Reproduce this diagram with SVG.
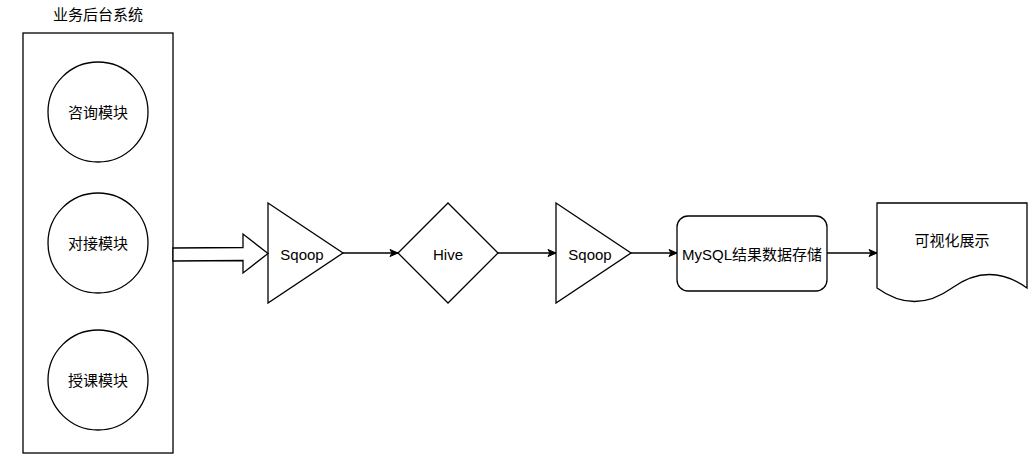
<svg xmlns="http://www.w3.org/2000/svg" width="1033" height="460" viewBox="0 0 1033 460">
<style>
.s{fill:#fff;stroke:#000;stroke-width:1.3}
.t{font-family:"Liberation Sans","Noto Sans CJK SC",sans-serif;font-size:15px;fill:#000;text-anchor:middle;dominant-baseline:central}
.c{fill:none;stroke:#000;stroke-width:1.3}
</style>
<defs>
<marker id="a" markerWidth="10" markerHeight="10" refX="9" refY="5" orient="auto" markerUnits="userSpaceOnUse">
<path d="M1,1.5 L9,5 L1,8.5 L3,5 Z" fill="#000" stroke="#000" stroke-width="1"/>
</marker>
</defs>
<rect width="1033" height="460" fill="#fff"/>
<text class="t" x="98" y="14">业务后台系统</text>
<g id="system"><rect class="s" x="23" y="33" width="150" height="420"/></g>
<g id="m1"><circle class="s" cx="98" cy="112" r="50"/><text class="t" x="98" y="112">咨询模块</text></g>
<g id="m2"><circle class="s" cx="98" cy="243" r="50"/><text class="t" x="98" y="243">对接模块</text></g>
<g id="m3"><circle class="s" cx="98" cy="380" r="50"/><text class="t" x="98" y="380">授课模块</text></g>
<g id="sqoop1"><path class="s" d="M268,203 L343,253 L268,303 Z"/><text class="t" x="302" y="254">Sqoop</text></g>
<g id="hive"><path class="s" d="M448,203 L498,253 L448,303 L398,253 Z"/><text class="t" x="448" y="254">Hive</text></g>
<g id="sqoop2"><path class="s" d="M556,203 L631,253 L556,303 Z"/><text class="t" x="590" y="254">Sqoop</text></g>
<g id="mysql"><rect class="s" x="677" y="216" width="150" height="75" rx="11"/><text class="t" x="752" y="254">MySQL结果数据存储</text></g>
<g id="doc"><path class="s" d="M877,203 L1027,203 L1027,288 Q989.5,261 952,288 Q914.5,315 877,288 Z"/><text class="t" x="952" y="240">可视化展示</text></g>
<g id="connectors">
<path class="s" d="M173,248 L243,247.5 L243,234 L268,253.5 L243,273 L243,260.5 L173,261 Z"/>
<line class="c" x1="343" y1="253" x2="398" y2="253" marker-end="url(#a)"/>
<line class="c" x1="498" y1="253" x2="556" y2="253" marker-end="url(#a)"/>
<line class="c" x1="631" y1="253" x2="677" y2="253" marker-end="url(#a)"/>
<line class="c" x1="827" y1="253" x2="877" y2="253" marker-end="url(#a)"/>
</g>
</svg>
